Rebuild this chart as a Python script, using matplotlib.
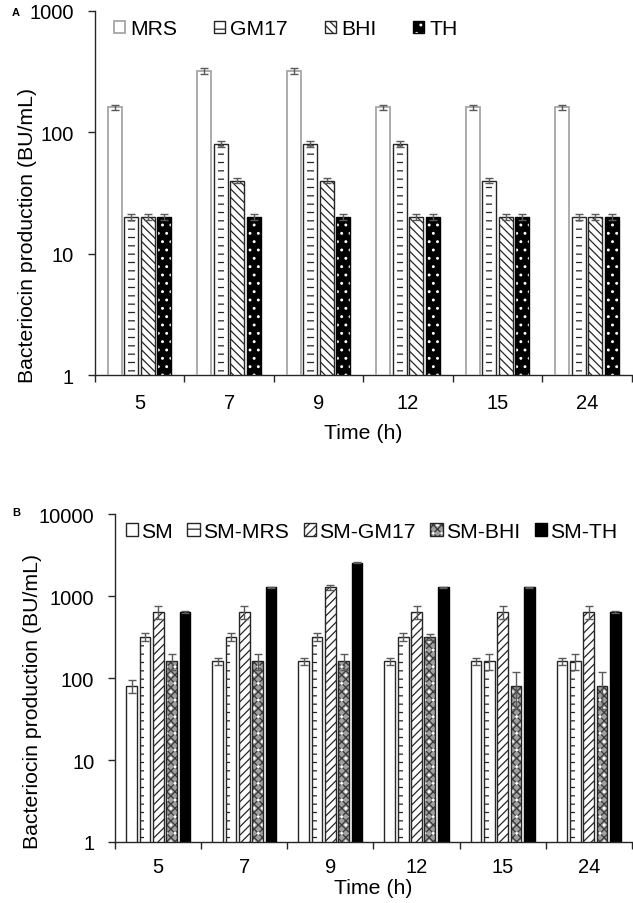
import numpy as np
import matplotlib
matplotlib.use("Agg")
import matplotlib.pyplot as plt
from matplotlib.ticker import NullLocator
from matplotlib.legend_handler import HandlerTuple

plt.rcParams['font.family'] = ['Liberation Sans', 'DejaVu Sans']
plt.rcParams['hatch.linewidth'] = 0.9

# ---- data ----
times = ['5', '7', '9', '12', '15', '24']

# panel A: culture media
a_labels = ['MRS', 'GM17', 'BHI', 'TH']
mrs = [160, 320, 320, 160, 160, 160]
mrs_err = [9, 18, 18, 9, 9, 9]
gm17 = [20, 80, 80, 80, 40, 20]
gm17_err = [1.2, 4.5, 4.5, 4.5, 2.2, 1.2]
bhi = [20, 40, 40, 20, 20, 20]
bhi_err = [1.2, 2.2, 2.2, 1.2, 1.2, 1.2]
th = [20, 20, 20, 20, 20, 20]
th_err = [1.2, 1.2, 1.2, 1.2, 1.2, 1.2]

# panel B: skim milk based media
b_labels = ['SM', 'SM-MRS', 'SM-GM17', 'SM-BHI', 'SM-TH']
sm = [80, 160, 160, 160, 160, 160]
sm_err = [15, 15, 15, 15, 15, 15]
sm_mrs = [320, 320, 320, 320, 160, 160]
sm_mrs_err = [38, 38, 38, 40, 36, 36]
sm_gm17 = [640, 640, 1280, 640, 640, 640]
sm_gm17_err = [115, 115, 100, 115, 115, 115]
sm_bhi = [160, 160, 160, 320, 80, 80]
sm_bhi_err = [35, 35, 35, 30, 38, 38]
sm_th = [640, 1280, 2560, 1280, 1280, 640]
sm_th_err = [20, 30, 50, 30, 30, 20]

EDGE = '#262626'
ERR = '#5a5a5a'


def draw_series(ax, xc, vals, errs, width, layers, edge, lw=1.0):
    # layers: (position, width fraction, bar kwargs) drawn under an outline bar
    handles = []
    for pos, frac, kw in layers:
        if pos == 'left':
            h = ax.bar(xc - width / 2, vals, width=width * frac, align='edge',
                       linewidth=0, zorder=2, **kw)
        else:
            h = ax.bar(xc, vals, width=width * frac, linewidth=0, zorder=2, **kw)
        handles.append(h)
    outline = ax.bar(xc, vals, width=width, fill=False, edgecolor=edge,
                     linewidth=lw, zorder=3)
    handles.append(outline)
    ax.errorbar(xc, vals, yerr=errs, fmt='none', ecolor=ERR, elinewidth=1,
                capsize=3.2, capthick=1, zorder=4)
    return tuple(handles)


def style_axes(ax, top, yticks, tick_pad, xlabel_pad):
    ax.set_yscale('log')
    ax.set_ylim(1, top)
    ax.set_xlim(0, len(times))
    ax.set_yticks(yticks, [str(t) for t in yticks])
    ax.yaxis.set_minor_locator(NullLocator())
    ax.set_xticks(np.arange(len(times)) + 0.5, times)
    ax.set_xticks(np.arange(len(times) + 1), minor=True)
    ax.tick_params(axis='x', which='major', length=0, pad=tick_pad, labelsize=14.5)
    ax.tick_params(axis='x', which='minor', length=5, width=1, color=EDGE, direction='out')
    ax.tick_params(axis='y', which='major', length=5, width=1, color=EDGE,
                   direction='out', pad=10, labelsize=14.5)
    for s in ['top', 'right']:
        ax.spines[s].set_visible(False)
    for s in ['left', 'bottom']:
        ax.spines[s].set_color(EDGE)
        ax.spines[s].set_linewidth(1)
    ax.set_xlabel('Time (h)', fontsize=15.3, labelpad=xlabel_pad)
    ax.set_ylabel('Bacteriocin production (BU/mL)', fontsize=15.3)


fig = plt.figure(figsize=(6.33, 9.04), dpi=100)
ax_a = fig.add_axes([0.150, 0.584, 0.848, 0.403])
ax_b = fig.add_axes([0.182, 0.0675, 0.816, 0.3625])

# ---- panel A ----
x = np.arange(len(times)) + 0.5
wa, sa = 0.156, 0.184
style_axes(ax_a, 1000, [1, 10, 100, 1000], 13, 8)
ha = []
ha.append(draw_series(ax_a, x - 1.5 * sa, mrs, mrs_err, wa,
                      [('c', 1.0, dict(color='white'))], '#a6a6a6', 1.3))
ha.append(draw_series(ax_a, x - 0.5 * sa, gm17, gm17_err, wa,
                      [('c', 1.0, dict(color='white')),
                       ('c', 0.45, dict(facecolor='none', edgecolor=EDGE, hatch='--'))], EDGE))
ha.append(draw_series(ax_a, x + 0.5 * sa, bhi, bhi_err, wa,
                      [('c', 1.0, dict(facecolor='white', edgecolor=EDGE, hatch='\\\\\\\\'))], EDGE))
ha.append(draw_series(ax_a, x + 1.5 * sa, th, th_err, wa,
                      [('c', 1.0, dict(facecolor='black', edgecolor='white', hatch='..'))], 'black'))
ax_a.yaxis.set_label_coords(-0.108, 0.385)
ax_a.legend(ha, a_labels, handler_map={tuple: HandlerTuple(ndivide=1)},
            loc='center left', bbox_to_anchor=(0.035, 0.95), ncol=4, frameon=False,
            fontsize=15.2, handlelength=0.52, handleheight=0.52, handletextpad=0.25,
            columnspacing=1.75, borderpad=0, borderaxespad=0)

# ---- panel B ----
wb, sb = 0.125, 0.155
style_axes(ax_b, 10000, [1, 10, 100, 1000, 10000], 11, 1)
hb = []
hb.append(draw_series(ax_b, x - 2 * sb, sm, sm_err, wb,
                      [('c', 1.0, dict(color='white'))], EDGE))
hb.append(draw_series(ax_b, x - 1 * sb, sm_mrs, sm_mrs_err, wb,
                      [('c', 1.0, dict(color='white')),
                       ('left', 0.45, dict(facecolor='none', edgecolor=EDGE, hatch='--'))], EDGE))
hb.append(draw_series(ax_b, x, sm_gm17, sm_gm17_err, wb,
                      [('c', 1.0, dict(facecolor='white', edgecolor=EDGE, hatch='////'))], EDGE))
hb.append(draw_series(ax_b, x + 1 * sb, sm_bhi, sm_bhi_err, wb,
                      [('c', 1.0, dict(facecolor='#a0a0a0', edgecolor='#3a3a3a', hatch='xxxx')),
                       ('c', 1.0, dict(facecolor='none', edgecolor='white', hatch='..'))], EDGE))
hb.append(draw_series(ax_b, x + 2 * sb, sm_th, sm_th_err, wb,
                      [('c', 1.0, dict(color='black'))], 'black'))
ax_b.yaxis.set_label_coords(-0.141, 0.433)
ax_b.legend(hb, b_labels, handler_map={tuple: HandlerTuple(ndivide=1)},
            loc='center left', bbox_to_anchor=(0.02, 0.948), ncol=5, frameon=False,
            fontsize=15.2, handlelength=0.58, handleheight=0.58, handletextpad=0.15,
            columnspacing=0.7, borderpad=0, borderaxespad=0)

fig.text(12 / 633, 1 - 13 / 904, 'A', fontsize=8, fontweight='bold', va='center')
fig.text(12 / 633, 1 - 513 / 904, 'B', fontsize=8, fontweight='bold', va='center')

fig.savefig('out.png', dpi=100)
